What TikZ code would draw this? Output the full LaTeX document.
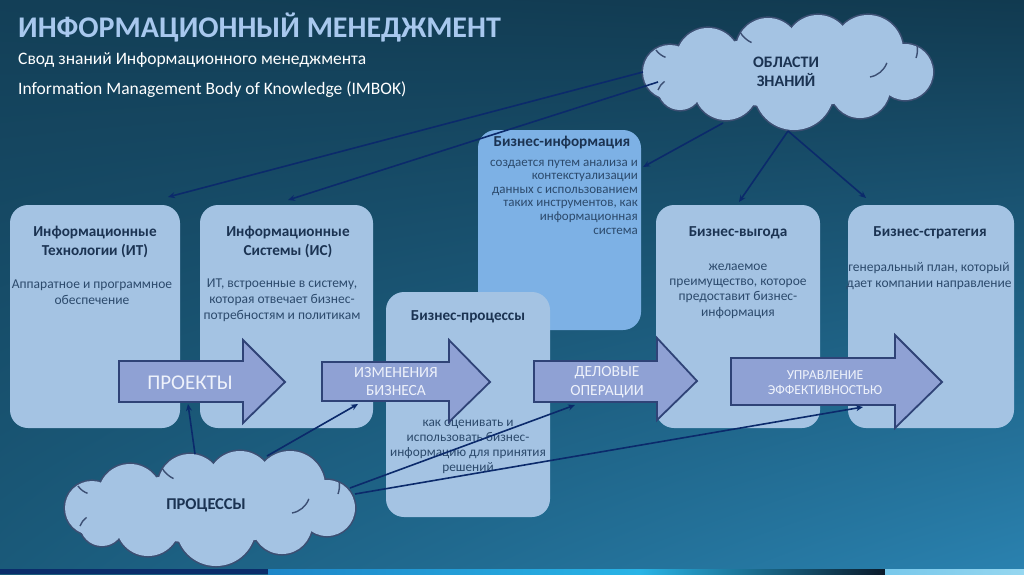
\documentclass[tikz,border=0pt]{standalone}
\usepackage{fontspec}
\setmainfont{Carlito}
\usetikzlibrary{arrows.meta,shadings}
\definecolor{bgA}{HTML}{133F57}
\definecolor{bgB}{HTML}{113A50}
\definecolor{bgC}{HTML}{1A5A7A}
\definecolor{bgD}{HTML}{2A82B0}
\definecolor{boxfill}{HTML}{A4C3E3}
\definecolor{infofill}{HTML}{7DB1E5}
\definecolor{arrfill}{HTML}{8FA1D4}
\definecolor{arrline}{HTML}{2F4377}
\definecolor{linecol}{HTML}{0B2A6B}
\definecolor{titlecol}{HTML}{A8C8EE}
\definecolor{boxtitle}{HTML}{1B3352}
\definecolor{boxtext}{HTML}{2C4A6C}
\definecolor{cloudline}{HTML}{3C4F73}
\definecolor{arrtext}{HTML}{EEF2FB}
\definecolor{stripA}{HTML}{0B2D6B}
\definecolor{stripB}{HTML}{1D86C8}
\definecolor{stripC}{HTML}{29B4E6}
\definecolor{stripD}{HTML}{0A1A2A}
\definecolor{stripE}{HTML}{78C8EB}
\definecolor{stripF}{HTML}{96D7F0}
\newcommand{\puffs}{-118/0/27, -80/-12/32, -20/-22/32, 30/-24/33, 80/-22/35, 117/0/28, 72/16/30, 6/18/40, -62/16/32, -108/16/22}
\begin{document}
\begin{tikzpicture}[x=1pt,y=-1pt,
  box/.style={draw=none, fill=boxfill, rounded corners=18pt, inner sep=0pt},
  blockarrow/.style={draw=arrline, fill=arrfill, line width=1.8pt, line join=miter},
  btitle/.style={font=\bfseries\fontsize{15.2}{19}\selectfont, text=boxtitle, align=center, inner sep=0pt},
  btext/.style={font=\fontsize{13.5}{16}\selectfont, text=boxtext, align=center, inner sep=0pt},
  atext/.style={text=arrtext, align=center, inner sep=0pt},
  ctext/.style={font=\bfseries\fontsize{16}{19}\selectfont, text=boxtitle, align=center, inner sep=0pt},
  conn/.style={draw=linecol, line width=1.6pt, -{Stealth[length=7pt,width=6pt]}},
  cloudpic/.pic={
    \foreach \cx/\cy/\cr in \puffs {\draw[cloudline, line width=3.2pt] (\cx,\cy) circle[radius=\cr];}
    \draw[cloudline, line width=3.2pt] (0,0) ellipse[x radius=110, y radius=35];
    \foreach \cx/\cy/\cr in \puffs {\fill[boxfill] (\cx,\cy) circle[radius=\cr];}
    \fill[boxfill] (0,0) ellipse[x radius=110, y radius=35];
    \draw[cloudline, line width=1.4pt] (-132,-22) arc[start angle=145, end angle=110, radius=20];
    \draw[cloudline, line width=1.4pt] (-48,-40) arc[start angle=150, end angle=115, radius=26];
    \draw[cloudline, line width=1.4pt] (128,-14) arc[start angle=20, end angle=-10, radius=24];
    \draw[cloudline, line width=1.4pt] (82,5) arc[start angle=80, end angle=20, radius=22];
    \draw[cloudline, line width=1.4pt] (-130,18) arc[start angle=200, end angle=235, radius=18];
  }
]
\useasboundingbox (0,0) rectangle (1024,574);
% background
\shade[upper left=bgA, upper right=bgB, lower left=bgC, lower right=bgD] (0,0) rectangle (1024,574);
\fill[stripA] (0,569) rectangle (268,574);
\shade[left color=stripB, right color=stripC] (268,569) rectangle (640,574);
\shade[left color=stripC, right color=stripD] (640,569) rectangle (885,574);
\shade[left color=stripE, right color=stripF] (885,569) rectangle (1024,574);

% title
\node[anchor=base west, inner sep=0pt, font=\bfseries\fontsize{30}{30}\selectfont, text=titlecol] (title) at (18,37) {ИНФОРМАЦИОННЫЙ МЕНЕДЖМЕНТ};
\node[anchor=base west, inner sep=0pt, font=\fontsize{17.5}{18}\selectfont, text=white] (sub1) at (18,64) {Свод знаний Информационного менеджмента};
\node[anchor=base west, inner sep=0pt, font=\fontsize{17.5}{18}\selectfont, text=white] (sub2) at (18,94) {Information Management Body of Knowledge (IMBOK)};

% boxes
\node[box, minimum width=170pt, minimum height=223pt] (it) at (95,316.5) {};
\node[box, minimum width=173pt, minimum height=223pt] (is) at (286.5,316.5) {};
\node[box, fill=infofill, minimum width=163pt, minimum height=200pt] (info) at (559.5,230) {};
\node[box, minimum width=164pt, minimum height=225pt] (bp) at (468,404.5) {};
\node[box, minimum width=164pt, minimum height=223pt] (vyg) at (738,316.5) {};
\node[box, minimum width=166pt, minimum height=223pt] (str) at (931,316.5) {};

% box texts
\node[btitle] (itT) at (95,242) {Информационные\\Технологии (ИТ)};
\node[btext] (itB) at (92,292) {Аппаратное и программное\\обеспечение};
\node[btitle] (isT) at (288,242) {Информационные\\Системы (ИС)};
\node[btext] (isB) at (282,300) {ИТ, встроенные в систему,\\которая отвечает бизнес-\\потребностям и политикам};
\node[btitle] (infoT) at (562,143) {Бизнес-информация};
\node[btext, align=right, anchor=east, font=\fontsize{13}{13.6}\selectfont] (infoB) at (638,197) {создается путем анализа и\\контекстуализации\\данных с использованием\\таких инструментов, как\\информационная\\система};
\node[btitle] (bpT) at (468,317) {Бизнес-процессы};
\node[btext, font=\fontsize{13.3}{15}\selectfont] (bpB) at (468,447) {как оценивать и\\использовать бизнес-\\информацию для принятия\\решений};
\node[btitle] (vygT) at (738,233) {Бизнес-выгода};
\node[btext, font=\fontsize{13.5}{15.3}\selectfont] (vygB) at (738,291) {желаемое\\преимущество, которое\\предоставит бизнес-\\информация};
\node[btitle] (strT) at (930,233) {Бизнес-стратегия};
\node[btext, font=\fontsize{13.5}{15.3}\selectfont] (strB) at (929,276) {генеральный план, который\\дает компании направление};

% block arrows
\draw[blockarrow] (119,361) -- (243,361) -- (243,340) -- (285,382) -- (243,423) -- (243,402) -- (119,402) -- cycle;
\draw[blockarrow] (322,362) -- (449,362) -- (449,340) -- (490,382) -- (449,422) -- (449,401) -- (322,401) -- cycle;
\draw[blockarrow] (534,361) -- (657,361) -- (657,338) -- (697,381) -- (657,420) -- (657,402) -- (534,402) -- cycle;
\draw[blockarrow] (731,358) -- (895,358) -- (895,335) -- (942,382) -- (895,428) -- (895,405) -- (731,405) -- cycle;
\node[atext, font=\fontsize{21}{24}\selectfont] (proj) at (190,383) {ПРОЕКТЫ};
\node[atext, font=\fontsize{15.5}{17.5}\selectfont] (izm) at (396,381.5) {ИЗМЕНЕНИЯ\\БИЗНЕСА};
\node[atext, font=\fontsize{15.5}{18.5}\selectfont] (del) at (607,382) {ДЕЛОВЫЕ\\ОПЕРАЦИИ};
\node[atext, font=\fontsize{13.7}{15.5}\selectfont] (upr) at (825,382.5) {УПРАВЛЕНИЕ\\ЭФФЕКТИВНОСТЬЮ};

% clouds
\pic at (788,72) {cloudpic};
\coordinate (obl) at (788,72);
\node[ctext] (oblT) at (786,71.5) {ОБЛАСТИ\\ЗНАНИЙ};
\pic at (210,508) {cloudpic};
\coordinate (proc) at (210,508);
\node[ctext, font=\bfseries\fontsize{16.5}{19}\selectfont] (procT) at (206,505) {ПРОЦЕССЫ};

% connector points
\coordinate (o1) at (643,72);
\coordinate (o2) at (658,82);
\coordinate (o3) at (723,123);
\coordinate (o4) at (788,131);
\coordinate (itE) at (168,197);
\coordinate (isE) at (288,200);
\coordinate (infoE) at (643,167);
\coordinate (vygE) at (739,202);
\coordinate (strE) at (866,198);
\coordinate (p1) at (195,454);
\coordinate (p2) at (267,456);
\coordinate (p3) at (350,488);
\coordinate (p4) at (355,494);
\coordinate (projE) at (188,404);
\coordinate (izmE) at (358,404);
\coordinate (delE) at (575,405);
\coordinate (uprE) at (863,407);

\draw[conn] (o1) -- (itE);
\draw[conn] (o2) -- (isE);
\draw[conn] (o3) -- (infoE);
\draw[conn] (o4) -- (vygE);
\draw[conn] (o4) -- (strE);
\draw[conn] (p1) -- (projE);
\draw[conn] (p2) -- (izmE);
\draw[conn] (p3) -- (delE);
\draw[conn] (p4) -- (uprE);
\end{tikzpicture}
\end{document}
